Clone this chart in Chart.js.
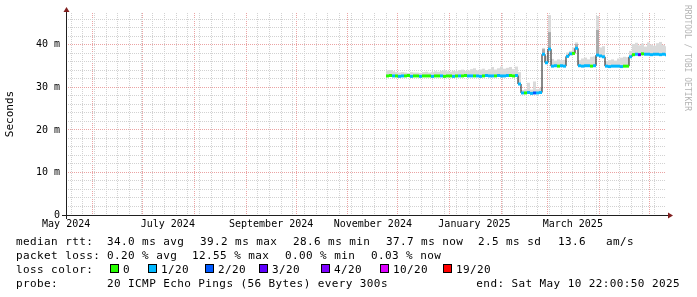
<!DOCTYPE html>
<html>
<head>
<meta charset="utf-8">
<script src="https://cdn.jsdelivr.net/npm/chart.js@4.4.1/dist/chart.umd.min.js"></script>
<style>
    html, body { margin: 0; padding: 0; background: #fff; }
    canvas { display: block; }
</style>
</head>
<body>
<canvas id="chart" width="697" height="297"></canvas>
<script>
// x axis runs in days since the graph start (15 May 2024 22:00:50), 360 days wide
const START = Date.UTC(2024, 4, 15, 22, 0, 50);
const SPAN_DAYS = 360;

// one sample every 1.8 days, first one around 24 Nov 2024
const firstDay = 192.9;
const stepDays = 1.8;

// median rtt per sample, ms
const median = [
    32.7, 32.8, 32.7, 32.7, 32.6, 32.7, 32.7, 32.8, 32.6, 32.7,
    32.7, 32.6, 32.7, 32.7, 32.7, 32.6, 32.7, 32.7, 32.7, 32.6,
    32.7, 32.7, 32.6, 32.7, 32.7, 32.7, 32.8, 32.7, 32.7, 32.7,
    32.7, 32.6, 32.7, 32.8, 32.7, 32.7, 32.7, 32.8, 32.7, 32.7,
    32.8, 32.8, 32.7, 32.8,
    30.8,
    28.7, 28.7, 28.8, 28.6, 28.7, 28.7, 28.8,
    37.8, 35.8, 39.0,
    35.0, 35.1, 35.0, 35.1, 35.0,
    37.3, 37.9, 38.0, 39.2,
    35.1, 35.0, 35.1, 35.1, 35.0, 35.1,
    37.6, 37.4, 37.2,
    35.0, 34.9, 35.0, 35.0, 35.0, 34.9, 35.0, 35.0,
    37.2, 37.7,
    37.8, 37.7, 37.9, 37.8, 37.8, 37.7, 37.8, 37.8, 37.7, 37.8, 37.7
];

// top of the smoke (slowest pings) per sample, ms
const smokeTop = [
    34.0, 34.1, 33.8, 33.6, 33.5, 33.6, 33.5, 33.4, 33.6, 33.5,
    33.5, 33.4, 33.6, 33.7, 33.5, 33.6, 33.8, 33.7, 33.9, 34.0,
    33.8, 33.7, 33.9, 33.8, 34.1, 34.2, 33.9, 34.0, 34.3, 34.5,
    34.0, 34.2, 34.4, 34.1, 34.3, 34.8, 34.2, 34.5, 34.9, 34.4,
    34.6, 34.8, 34.3, 34.9,
    33.6,
    29.4, 29.6, 31.1, 29.5, 31.4, 29.6, 29.9,
    39.3, 37.4, 47.0,
    36.7, 36.3, 36.6, 36.4, 36.5,
    38.2, 38.6, 39.4, 40.6,
    36.4, 36.8, 37.0, 36.6, 37.2, 37.3,
    46.8, 39.4, 39.7,
    36.2, 36.4, 36.6, 36.3, 36.8, 37.0, 37.2, 37.1,
    38.6, 40.2,
    40.5, 39.9, 40.3, 39.6, 40.6, 40.1, 39.8, 40.4, 40.7, 40.0, 39.7
];

// denser smoke on the spikes
const darkIdx = [52, 54, 63, 70];
const darkTop = [39.0, 43.0, 40.2, 43.5];

// packet loss class per sample (index into lossColors)
const loss = [
    0, 0, 1, 0, 1, 1, 0, 0, 1, 0,
    0, 1, 0, 0, 0, 1, 0, 0, 1, 0,
    0, 0, 1, 0, 1, 0, 0, 1, 1, 0,
    1, 1, 0, 1, 1, 1, 0, 1, 1, 1,
    1, 0, 0, 1,
    1,
    1, 0, 1, 1, 2, 1, 1,
    1, 1, 1,
    1, 1, 0, 1, 1,
    1, 1, 0, 1,
    1, 1, 1, 1, 0, 1,
    1, 1, 1,
    1, 1, 1, 1, 1, 1, 0, 0,
    1, 0,
    1, 3, 0, 1, 1, 1, 1, 1, 1, 1, 1
];

const lossColors = ['#26ff00', '#00b8ff', '#0059ff', '#5e00ff', '#7e00ff', '#dd00ff', '#ff0000'];
const lossLabels = ['0', '1/20', '2/20', '3/20', '4/20', '10/20', '19/20'];

const monthLabels = ['May 2024', 'July 2024', 'September 2024', 'November 2024', 'January 2025', 'March 2025'];
const monthLabelStarts = [[2024, 4], [2024, 6], [2024, 8], [2024, 10], [2025, 0], [2025, 2]];

const rttStats = ['34.0 ms avg', '39.2 ms max', '28.6 ms min', '37.7 ms now', '2.5 ms sd', '13.6', 'am/s'];
const lossStats = ['0.20 % avg', '12.55 % max', '0.00 % min', '0.03 % now'];
const probeText = '20 ICMP Echo Pings (56 Bytes) every 300s';
const endText = 'end: Sat May 10 22:00:50 2025';

const yMax = 47.5;

const MAJOR = '#eba3a3';
const MINOR = '#d2d2d2';
const FONT = '"DejaVu Sans Mono", monospace';

const dayOf = (y, m, d) => (Date.UTC(y, m, d) - START) / 86400000;

function buildXTicks() {
    const ticks = [];
    // weekly lines (sundays)
    for (let d = dayOf(2024, 4, 19); d < SPAN_DAYS; d += 7) {
        ticks.push({value: d, kind: 'week'});
    }
    // month lines
    for (let m = 5; m < 17; m++) {
        ticks.push({value: dayOf(2024, m, 1), kind: 'month'});
    }
    // labels sit half a month after the month start (rrdtool style)
    monthLabelStarts.forEach(([y, m], i) => {
        ticks.push({value: dayOf(y, m, 1) + 15, kind: 'label', text: monthLabels[i]});
    });
    return ticks.sort((a, b) => a.value - b.value);
}

const sampleDays = median.map((_, i) => firstDay + i * stepDays);

const decorations = {
    id: 'decorations',
    afterDraw(chart) {
        const ctx = chart.ctx;
        const {left, right, top, bottom} = chart.chartArea;
        ctx.save();

        // axes
        ctx.lineWidth = 1;
        ctx.strokeStyle = '#1f1f1f';
        ctx.beginPath();
        ctx.moveTo(left - 4, bottom + 0.5);
        ctx.lineTo(right + 4, bottom + 0.5);
        ctx.moveTo(left + 0.5, bottom + 4);
        ctx.lineTo(left + 0.5, top - 3);
        ctx.stroke();

        // arrows
        ctx.fillStyle = '#801f1f';
        ctx.beginPath();
        ctx.moveTo(right + 2, bottom - 2.5);
        ctx.lineTo(right + 7, bottom + 0.5);
        ctx.lineTo(right + 2, bottom + 3.5);
        ctx.closePath();
        ctx.fill();
        ctx.beginPath();
        ctx.moveTo(left - 2.5, top - 1);
        ctx.lineTo(left + 0.5, top - 6);
        ctx.lineTo(left + 3.5, top - 1);
        ctx.closePath();
        ctx.fill();

        // y title
        ctx.save();
        ctx.fillStyle = '#000';
        ctx.font = '11px ' + FONT;
        ctx.translate(10, 114);
        ctx.rotate(-Math.PI / 2);
        ctx.textAlign = 'center';
        ctx.textBaseline = 'middle';
        ctx.fillText('Seconds', 0, 0);
        ctx.restore();

        // watermark
        ctx.save();
        ctx.fillStyle = '#b4b4b4';
        ctx.font = '8px ' + FONT;
        ctx.translate(687, 5);
        ctx.rotate(Math.PI / 2);
        ctx.textAlign = 'left';
        ctx.textBaseline = 'middle';
        ctx.fillText('RRDTOOL / TOBI OETIKER', 0, 0);
        ctx.restore();

        // legend
        ctx.fillStyle = '#000';
        ctx.font = '11px ' + FONT;
        ctx.letterSpacing = '0.4px';
        ctx.textAlign = 'left';
        ctx.textBaseline = 'alphabetic';

        ctx.fillText('median rtt:', 16, 245);
        [107, 200, 293, 386, 478, 558, 606].forEach((x, i) => ctx.fillText(rttStats[i], x, 245));

        ctx.fillText('packet loss:', 16, 259);
        [107, 192, 285, 371].forEach((x, i) => ctx.fillText(lossStats[i], x, 259));

        ctx.fillText('loss color:', 16, 273);
        [110, 148, 205, 259, 321, 380, 443].forEach((x, i) => {
            ctx.fillStyle = lossColors[i];
            ctx.fillRect(x, 264, 9, 9);
            ctx.strokeStyle = '#000';
            ctx.strokeRect(x + 0.5, 264.5, 8, 8);
            ctx.fillStyle = '#000';
            ctx.fillText(lossLabels[i], x + 13, 273);
        });

        ctx.fillText('probe:', 16, 287);
        ctx.fillText(probeText, 107, 287);
        ctx.textAlign = 'right';
        ctx.fillText(endText, 680, 287);

        ctx.restore();
    }
};

Chart.defaults.font.family = FONT;
Chart.defaults.font.size = 10;
Chart.defaults.color = '#000';

new Chart(document.getElementById('chart'), {
    type: 'bar',
    data: {
        datasets: [
            {
                // median, coloured by loss
                order: 0,
                data: median.map((v, i) => ({x: sampleDays[i], y: [v - 0.35, v + 0.35]})),
                backgroundColor: loss.map(l => lossColors[l]),
                barThickness: 3,
                grouped: false,
                inflateAmount: 0,
                borderWidth: 0
            },
            {
                type: 'line',
                order: 1,
                data: median.map((v, i) => ({x: sampleDays[i], y: v})),
                borderColor: '#111',
                borderWidth: 1,
                stepped: 'middle',
                pointRadius: 0,
                fill: false
            },
            {
                order: 2,
                data: darkIdx.map((k, j) => ({x: sampleDays[k], y: [median[k], darkTop[j]]})),
                backgroundColor: '#ababab',
                barThickness: 3,
                grouped: false,
                inflateAmount: 0,
                borderWidth: 0
            },
            {
                order: 3,
                data: smokeTop.map((v, i) => ({x: sampleDays[i], y: [median[i] - 0.2, v]})),
                backgroundColor: '#dadada',
                barThickness: 3,
                grouped: false,
                inflateAmount: 0,
                borderWidth: 0
            }
        ]
    },
    options: {
        responsive: false,
        animation: false,
        devicePixelRatio: 1,
        events: [],
        layout: {padding: {top: 13, right: 31, bottom: 0, left: 0}},
        plugins: {
            legend: {display: false},
            tooltip: {enabled: false}
        },
        scales: {
            x: {
                type: 'linear',
                min: 0,
                max: SPAN_DAYS,
                offset: false,
                afterFit: s => { s.height = 82; },
                afterBuildTicks: s => { s.ticks = buildXTicks(); },
                border: {display: false, dash: [1, 1]},
                grid: {
                    offset: false,
                    drawTicks: false,
                    color: c => c.tick.kind === 'month' ? MAJOR : (c.tick.kind === 'week' ? MINOR : 'rgba(0,0,0,0)')
                },
                ticks: {
                    autoSkip: false,
                    maxRotation: 0,
                    padding: 3,
                    callback: (v, i, ticks) => ticks[i].text || ''
                }
            },
            y: {
                min: 0,
                max: yMax,
                afterFit: s => { s.width = 66; },
                border: {display: false, dash: [1, 1]},
                grid: {
                    drawTicks: false,
                    color: c => c.tick.value % 10 === 0 ? MAJOR : MINOR
                },
                ticks: {
                    stepSize: 2,
                    includeBounds: false,
                    autoSkip: false,
                    padding: 6,
                    callback: v => v % 10 ? '' : (v === 0 ? '0' : v + ' m')
                }
            }
        }
    },
    plugins: [decorations]
});
</script>
</body>
</html>
